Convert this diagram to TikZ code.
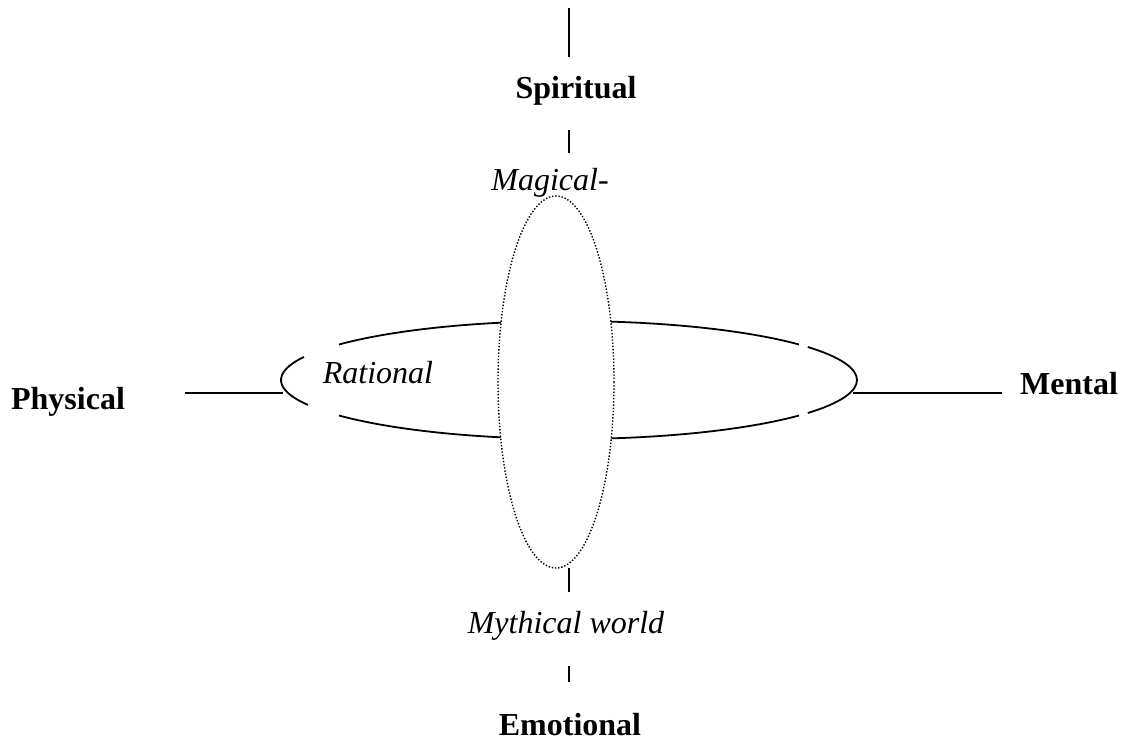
\documentclass[tikz,border=0pt]{standalone}
\usepackage{fontspec}
\setmainfont{Liberation Serif}
\usetikzlibrary{calc}
\begin{document}
\begin{tikzpicture}[x=1pt,y=-1pt,
  axislabel/.style={font=\fontsize{32}{38}\selectfont\bfseries, inner sep=0pt, anchor=base},
  worldlabel/.style={font=\fontsize{32}{38}\selectfont\itshape, inner sep=0pt, anchor=base},
  axisline/.style={line width=1.7pt},
  ringline/.style={line width=1.8pt},
  dotring/.style={line width=1.4pt, dash pattern=on 1.4pt off 1.8pt, fill=white}]
\useasboundingbox (0,0) rectangle (1123,744);
% labels
\node[axislabel] (spiritual) at (576,98) {Spiritual};
\node[axislabel] (physical) at (68,409) {Physical};
\node[axislabel] (mental) at (1069,394) {Mental};
\node[axislabel] (emotional) at (570,735) {Emotional};
\node[worldlabel] (magical) at (550,190) {Magical-};
\node[worldlabel] (mythical) at (566,633) {Mythical world};
\node[worldlabel] (rational) at (378,383) {Rational};
% axis line ends
\coordinate (t1) at (569,8);
\coordinate (t2) at (569,57);
\coordinate (t3) at (569,130);
\coordinate (t4) at (569,153);
\coordinate (b1) at (569,568);
\coordinate (b2) at (569,592);
\coordinate (b3) at (569,666);
\coordinate (b4) at (569,682);
\coordinate (l1) at (185,393);
\coordinate (l2) at (283,393);
\coordinate (r1) at (853,393);
\coordinate (r2) at (1002,393);
\draw[axisline] (t1) -- (t2);
\draw[axisline] (t3) -- (t4);
\draw[axisline] (b1) -- (b2);
\draw[axisline] (b3) -- (b4);
\draw[axisline] (l1) -- (l2);
\draw[axisline] (r1) -- (r2);
% horizontal ring (with small gaps)
\coordinate (hc) at (569,380);
\draw[ringline] ($(hc)+(37:288 and -59)$) arc[start angle=37, end angle=143, x radius=288, y radius=-59];
\draw[ringline] ($(hc)+(157:288 and -59)$) arc[start angle=157, end angle=205, x radius=288, y radius=-59];
\draw[ringline] ($(hc)+(217:288 and -59)$) arc[start angle=217, end angle=323, x radius=288, y radius=-59];
\draw[ringline] ($(hc)+(326:288 and -59)$) arc[start angle=326, end angle=394, x radius=288, y radius=-59];
% vertical dotted ring
\draw[dotring] (556,382) ellipse[x radius=58, y radius=186];
\end{tikzpicture}
\end{document}
